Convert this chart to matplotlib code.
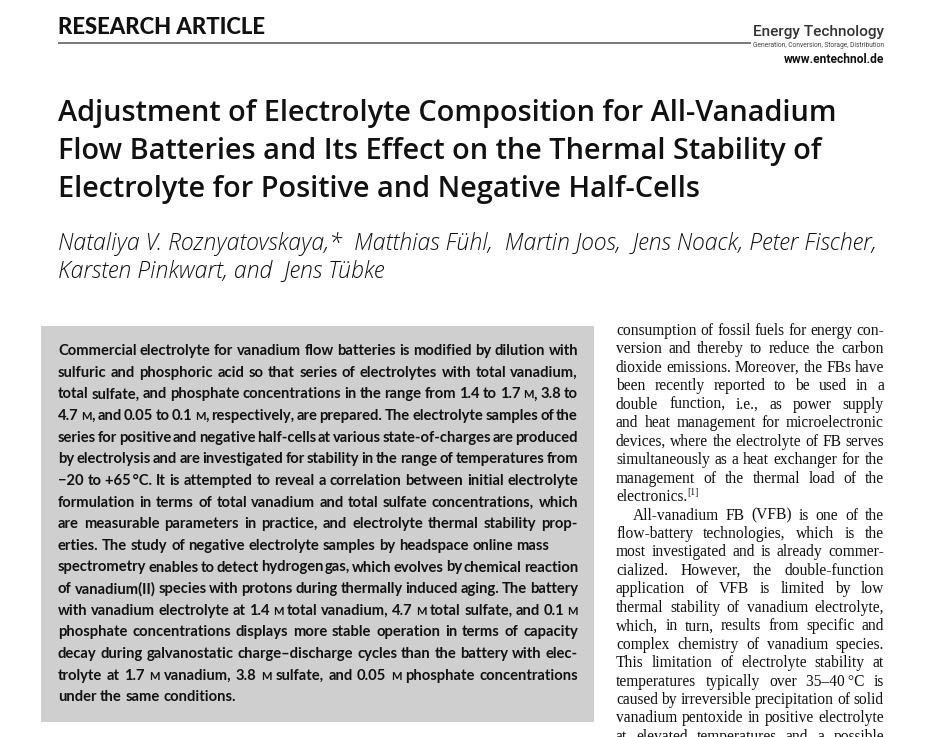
import matplotlib
matplotlib.use("Agg")
import matplotlib.pyplot as plt
from matplotlib.patches import Rectangle

W, H = 931, 737

header_left = "RESEARCH ARTICLE"
journal_name = "Energy Technology"
journal_sub = "Generation, Conversion, Storage, Distribution"
journal_url = "www.entechnol.de"

title_lines = [
    "Adjustment of Electrolyte Composition for All-Vanadium",
    "Flow Batteries and Its Effect on the Thermal Stability of",
    "Electrolyte for Positive and Negative Half-Cells",
]

author_lines = [
    "Nataliya V. Roznyatovskaya,*  Matthias F\u00fchl,  Martin Joos,  Jens Noack, Peter Fischer,",
    "Karsten Pinkwart, and  Jens T\u00fcbke",
]

# {M} = small capital (molar unit)
abstract_lines = [
    ("Commercial electrolyte for vanadium flow batteries is modified by dilution with", True),
    ("sulfuric and phosphoric acid so that series of electrolytes with total vanadium,", True),
    ("total sulfate, and phosphate concentrations in the range from 1.4 to 1.7 {M}, 3.8 to", True),
    ("4.7 {M}, and 0.05 to 0.1 {M}, respectively, are prepared. The electrolyte samples of the", True),
    ("series for positive and negative half-cells at various state-of-charges are produced", True),
    ("by electrolysis and are investigated for stability in the range of temperatures from", True),
    ("\u221220 to +65\u2009\u00b0C. It is attempted to reveal a correlation between initial electrolyte", True),
    ("formulation in terms of total vanadium and total sulfate concentrations, which", True),
    ("are measurable parameters in practice, and electrolyte thermal stability prop-", True),
    ("erties. The study of negative electrolyte samples by headspace online mass", False),
    ("spectrometry enables to detect hydrogen gas, which evolves by chemical reaction", True),
    ("of vanadium(II) species with protons during thermally induced aging. The battery", True),
    ("with vanadium electrolyte at 1.4 {M} total vanadium, 4.7 {M} total sulfate, and 0.1 {M}", True),
    ("phosphate concentrations displays more stable operation in terms of capacity", True),
    ("decay during galvanostatic charge\u2013discharge cycles than the battery with elec-", True),
    ("trolyte at 1.7 {M} vanadium, 3.8 {M} sulfate, and 0.05 {M} phosphate concentrations", True),
    ("under the same conditions.", False),
]

# {^1} = superscript reference
body_lines = [
    ("consumption of fossil fuels for energy con-", True, 0),
    ("version and thereby to reduce the carbon", True, 0),
    ("dioxide emissions. Moreover, the FBs have", True, 0),
    ("been recently reported to be used in a", True, 0),
    ("double function, i.e., as power supply", True, 0),
    ("and heat management for microelectronic", True, 0),
    ("devices, where the electrolyte of FB serves", True, 0),
    ("simultaneously as a heat exchanger for the", True, 0),
    ("management of the thermal load of the", True, 0),
    ("electronics.{^[1]}", False, 0),
    ("All-vanadium FB (VFB) is one of the", True, 17),
    ("flow-battery technologies, which is the", True, 0),
    ("most investigated and is already commer-", True, 0),
    ("cialized. However, the double-function", True, 0),
    ("application of VFB is limited by low", True, 0),
    ("thermal stability of vanadium electrolyte,", True, 0),
    ("which, in turn, results from specific and", True, 0),
    ("complex chemistry of vanadium species.", True, 0),
    ("This limitation of electrolyte stability at", True, 0),
    ("temperatures typically over 35\u201340\u2009\u00b0C is", True, 0),
    ("caused by irreversible precipitation of solid", True, 0),
    ("vanadium pentoxide in positive electrolyte", True, 0),
    ("at elevated temperatures and a possible", True, 0),
]

fig = plt.figure(figsize=(W / 100, H / 100), dpi=100)
ax = fig.add_axes([0, 0, 1, 1])
ax.set_xlim(0, W)
ax.set_ylim(H, 0)
ax.axis("off")
renderer = fig.canvas.get_renderer()


def text_width(s, **kw):
    t = ax.text(0, 0, s, **kw)
    w = t.get_window_extent(renderer).width
    t.remove()
    return w


def fit_size(s, target, base=20, **kw):
    return base * target / text_width(s, fontsize=base, **kw)


def split_segments(word, size):
    # returns list of (text, fontsize, rise)
    segs = []
    i = 0
    while i < len(word):
        j = word.find("{", i)
        if j < 0:
            segs.append((word[i:], size, 0))
            break
        if j > i:
            segs.append((word[i:j], size, 0))
        k = word.find("}", j)
        inner = word[j + 1:k]
        if inner.startswith("^"):
            segs.append((inner[1:], size * 0.62, size * 0.55))
        else:
            segs.append((inner, size * 0.76, 0))
        i = k + 1
    return segs


def line_metrics(s, size, **kw):
    parts = [split_segments(w, size) for w in s.split(" ")]
    widths = [sum(text_width(t, fontsize=fs, **kw) for t, fs, r in p) for p in parts]
    space = text_width("x x", fontsize=size, **kw) - text_width("xx", fontsize=size, **kw)
    return parts, widths, space


def block_size(lines, width, tight=1.0, base=10, **kw):
    # largest size at which every justified line fits with `tight` x normal spacing
    best = None
    for s in lines:
        if not s[1]:
            continue
        parts, widths, space = line_metrics(s[0], base, **kw)
        avail = width - (s[2] if len(s) > 2 else 0)
        nat = sum(widths) + tight * space * (len(widths) - 1)
        cand = base * avail / nat
        best = cand if best is None else min(best, cand)
    return best


def draw_line(s, x0, x1, y, size, justify, **kw):
    parts, widths, space = line_metrics(s, size, **kw)
    if justify and len(parts) > 1:
        gap = (x1 - x0 - sum(widths)) / (len(parts) - 1)
    else:
        gap = space
    x = x0
    for p, w in zip(parts, widths):
        xx = x
        for t, fs, r in p:
            ax.text(xx, y - r, t, fontsize=fs, va="baseline", ha="left", **kw)
            xx += text_width(t, fontsize=fs, **kw)
        x += w + gap


# header
hdr_kw = dict(family=["Lato", "DejaVu Sans"], fontweight="black", color="#111111")
ax.text(58, 34, header_left, fontsize=fit_size(header_left, 208, **hdr_kw),
        va="baseline", ha="left", **hdr_kw)
ax.plot([58, 751], [43, 43], color="#555555", lw=1.1, solid_capstyle="butt")

jt_kw = dict(family=["Roboto", "DejaVu Sans"], fontweight="medium", color="#333333")
ax.text(884, 36, journal_name, fontsize=fit_size(journal_name, 131, **jt_kw),
        va="baseline", ha="right", **jt_kw)
sub_kw = dict(family=["Roboto", "DejaVu Sans"], color="#444444")
ax.text(884, 47, journal_sub, fontsize=fit_size(journal_sub, 131, **sub_kw),
        va="baseline", ha="right", **sub_kw)
url_kw = dict(family=["Roboto", "DejaVu Sans"], fontweight="bold", color="#111111")
ax.text(884, 63, journal_url, fontsize=fit_size(journal_url, 100, **url_kw),
        va="baseline", ha="right", **url_kw)

# title
title_kw = dict(family=["Open Sans", "DejaVu Sans"], fontweight="semibold", color="#111111")
tsize = fit_size(title_lines[0], 778, **title_kw)
for i, line in enumerate(title_lines):
    ax.text(58, 121 + 38 * i, line, fontsize=tsize, va="baseline", ha="left", **title_kw)

# authors
auth_kw = dict(family=["Open Sans", "DejaVu Sans"], fontstyle="italic", fontweight="light",
               color="#111111")
asize = fit_size(author_lines[0], 816, **auth_kw)
for i, line in enumerate(author_lines):
    ax.text(58, 250 + 28 * i, line, fontsize=asize, va="baseline", ha="left", **auth_kw)

# abstract box
ax.add_patch(Rectangle((41, 326), 553, 396, facecolor="#cfcfcf", edgecolor="none"))
abs_kw = dict(family=["Lato", "DejaVu Sans"], fontweight="bold", color="#111111")
abs_size = 10.6
for i, (line, just) in enumerate(abstract_lines):
    draw_line(line, 58, 578, 355 + 21.65 * i, abs_size, just, **abs_kw)

# right column body text
body_kw = dict(family=["Liberation Serif", "DejaVu Serif"], color="#111111")
body_size = block_size(body_lines, 268, tight=0.9, **body_kw)
for i, (line, just, indent) in enumerate(body_lines):
    draw_line(line, 616 + indent, 884, 335 + 18.45 * i, body_size, just, **body_kw)

fig.savefig("out.png", dpi=100, facecolor="white")
